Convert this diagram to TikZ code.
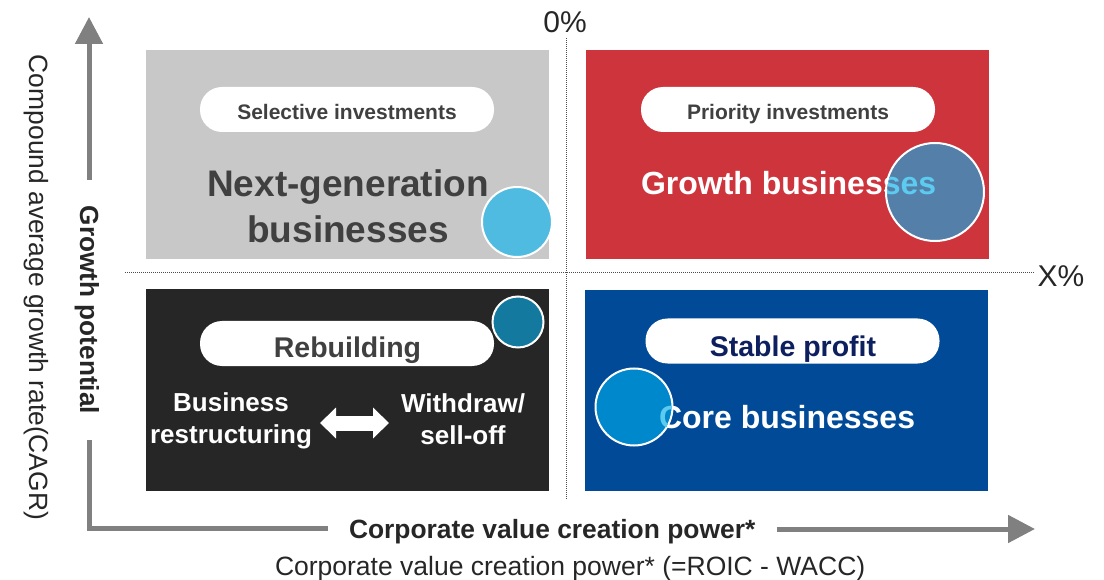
\documentclass[tikz,border=0pt]{standalone}
\usepackage{fontspec}
\setmainfont{Liberation Sans}
\usetikzlibrary{arrows.meta}
\definecolor{graybox}{HTML}{C8C8C8}
\definecolor{redbox}{HTML}{CE343C}
\definecolor{blackbox}{HTML}{262626}
\definecolor{bluebox}{HTML}{004A98}
\definecolor{cycirc}{HTML}{4FBBE0}
\definecolor{stcirc}{HTML}{547FA8}
\definecolor{tlcirc}{HTML}{13799F}
\definecolor{corecirc}{HTML}{0088CC}
\definecolor{dtext}{HTML}{404040}
\definecolor{navytext}{HTML}{0D1F5E}
\definecolor{axisgray}{HTML}{808080}
\definecolor{cytext}{HTML}{5DCBF0}
\definecolor{axtext}{HTML}{262626}
\newcommand{\fsz}[2]{\fontsize{#1pt}{#2pt}\selectfont}
\begin{document}
\begin{tikzpicture}[x=1pt,y=-1pt,
  quad/.style={inner sep=0pt, outer sep=0pt, draw=none, minimum width=403pt, minimum height=209pt},
  pill/.style={fill=white, rounded corners=22pt, minimum width=294pt, minimum height=45pt, inner sep=0pt},
  bub/.style={circle, draw=white, line width=2pt, inner sep=0pt},
  txt/.style={inner sep=0pt, outer sep=0pt, anchor=base},
  pilltxt/.style={txt, font=\bfseries\fsz{21}{25}, text=dtext},
  bigtxt/.style={txt, font=\bfseries\fsz{32}{38}, text=white},
  midtxt/.style={txt, font=\bfseries\fsz{26}{31}, text=white},
  axline/.style={draw=axisgray, line width=5pt},
  axhead/.style={-{Triangle[length=27pt,width=27pt]}},
  dotline/.style={draw=black!70, line width=0.8pt, dash pattern=on 1pt off 1pt}
]
\useasboundingbox (0,0) rectangle (1104,580);

% quadrants
\node[quad, fill=graybox] (qtl) at (347.5,154.5) {};
\node[quad, fill=redbox] (qtr) at (787.5,155) {};
\node[quad, fill=blackbox, minimum height=202pt] (qbl) at (347.5,390) {};
\node[quad, fill=bluebox, minimum height=201pt] (qbr) at (786.5,390.5) {};

% dotted dividers
\coordinate (vtop) at (566,38);
\coordinate (vbot) at (566,500);
\coordinate (hleft) at (125,272);
\coordinate (hright) at (1034,272);
\draw[dotline] (vtop) -- (vbot);
\draw[dotline] (hleft) -- (hright);

\node[txt, font=\fsz{30}{36}, text=axtext] (zero) at (565,33) {0\%};
\node[txt, font=\fsz{30}{36}, text=axtext] (xpct) at (1061,287) {X\%};

% top-left
\node[pill] (pill1) at (347,109.5) {};
\node[pilltxt] (sel) at (347,120) {Selective investments};
\node[txt, font=\bfseries\fsz{37}{44}, text=dtext] (ng1) at (348,197) {Next-generation};
\node[txt, font=\bfseries\fsz{37}{44}, text=dtext] (ng2) at (348,243) {businesses};
\node[bub, fill=cycirc, minimum size=70pt] (c1) at (517,222) {};

% top-right
\node[pill] (pill2) at (788,109.5) {};
\node[pilltxt] (pri) at (788,120) {Priority investments};
\node[bigtxt, anchor=base west] (gb) at (641,195) {Growth businesses};
\node[bub, fill=stcirc, minimum size=98pt] (c2) at (935,192) {};
\begin{scope}
  \clip (935,192) circle (48pt);
  \node[bigtxt, anchor=base west, text=cytext] (gbc) at (641,195) {Growth businesses};
\end{scope}

% bottom-left
\node[pill] (pill3) at (347,343.5) {};
\node[txt, font=\bfseries\fsz{28.5}{34}, text=dtext] (reb) at (347.5,357) {Rebuilding};
\node[bub, fill=tlcirc, minimum size=51pt] (c3) at (518,322) {};
\node[midtxt] (bus1) at (231,411) {Business};
\node[midtxt] (bus2) at (231,443) {restructuring};
\node[midtxt] (wd1) at (463,412) {Withdraw/};
\node[midtxt] (wd2) at (463,444) {sell-off};
\coordinate (da1) at (320,423);
\coordinate (da2) at (389,423);
\draw[white, line width=15pt, {Triangle[length=16pt,width=30pt]}-{Triangle[length=16pt,width=30pt]}] (da1) -- (da2);

% bottom-right
\node[pill] (pill4) at (792.5,341) {};
\node[txt, font=\bfseries\fsz{28.5}{34}, text=navytext] (stab) at (793,356) {Stable profit};
\node[bigtxt, anchor=base west] (core) at (659,428) {Core businesses};
\node[bub, fill=corecirc, minimum size=77pt] (c4) at (634,407) {};
\begin{scope}
  \clip (634,407) circle (37.5pt);
  \node[bigtxt, anchor=base west, text=cytext] (corec) at (659,428) {Core businesses};
\end{scope}

% axes
\coordinate (ya) at (89,180);
\coordinate (yb) at (89,17);
\draw[axline, axhead, draw=axisgray, fill=axisgray] (ya) -- (yb);
\coordinate (la) at (89,440);
\coordinate (lb) at (89,528);
\coordinate (lc) at (328,528);
\draw[axline, line join=miter] (la) -- (lb) -- (lc);
\coordinate (xa) at (777,529);
\coordinate (xb) at (1035,529);
\draw[axline, -{Triangle[length=27pt,width=27pt]}, fill=axisgray] (xa) -- (xb);

\node[txt, anchor=base west, font=\bfseries\fsz{26.4}{31}, text=axtext] (xlab) at (349,538) {Corporate value creation power*};
\node[txt, anchor=base west, font=\fsz{26.5}{31}, text=axtext] (xlab2) at (275,575) {Corporate value creation power* (=ROIC - WACC)};
\node[txt, rotate=-90, font=\fsz{26.4}{31}, text=axtext] (ylab2) at (30,287.5) {Compound average growth rate(CAGR)};
\node[txt, rotate=-90, font=\bfseries\fsz{26.2}{31}, text=axtext] (ylab) at (80,310) {Growth potential};
\end{tikzpicture}
\end{document}
